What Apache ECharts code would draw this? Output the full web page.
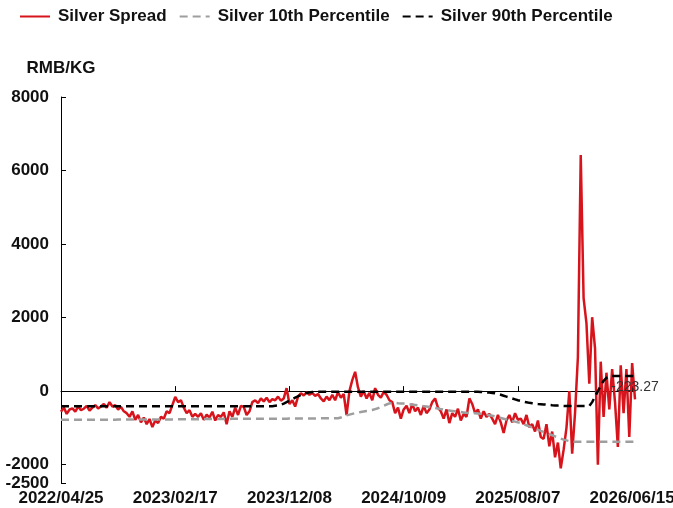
<!DOCTYPE html>
<html>
<head>
<meta charset="utf-8">
<title>Silver Spread</title>
<script src="https://cdn.jsdelivr.net/npm/echarts@6/dist/echarts.min.js"></script>
<style>
  html, body { margin: 0; padding: 0; background: #fff; }
  #main { width: 673px; height: 508px; }
</style>
</head>
<body>
<div id="main"></div>
<script>
// dates shown on the x axis, one every 40 points
var tickDates = ['2022/04/25', '2023/02/17', '2023/12/08', '2024/10/09', '2025/08/07', '2026/06/15'];
var perTick = 40;

// Silver spread, RMB/KG
var spread = [
    -560, -450, -620, -500, -470, -560, -420, -520, -480, -400,
    -530, -450, -380, -470, -420, -350, -450, -300, -420, -380,
    -500, -430, -550, -600, -700, -550, -780, -650, -850, -720,
    -900, -760, -980, -800, -870, -700, -750, -550, -600, -380,
    -160, -300, -250, -450, -600, -520, -700, -620, -700, -600,
    -780, -640, -720, -560, -800, -650, -700, -580, -900, -550,
    -700, -450, -650, -400, -430, -650, -550, -300, -250, -330,
    -200, -280, -180, -300, -220, -250, -150, -260, -200, 80,
    -350, -250, -420, -150, -60, -120, -30, -100, -50, -130,
    -80, -200, -280, -150, -250, -100, -250, -30, -180, -80,
    -650, 0, 300, 525, 100, -150, 0, -200, -50, -250,
    80, -100, -180, -20, -100, -250, -300, -600, -450, -750,
    -500, -400, -600, -350, -550, -450, -650, -400, -600, -500,
    -300, -200, -450, -550, -750, -500, -870, -600, -700, -480,
    -800, -620, -700, -200, -350, -600, -500, -750, -550, -700,
    -620, -750, -900, -650, -850, -1140, -800, -650, -850, -600,
    -780, -750, -900, -650, -980, -900, -1100, -800, -1250, -1300,
    -900, -1500, -1100, -1800, -1400, -2100, -1600, -1000, 0, -1700,
    -600, 920, 6420, 2530, 1850, 200, 2010, 1170, -2000, 800,
    -700, 500, -500, 600, -300, -1520, 700, -600, 600, -1250,
    760, -223.27
];

// 10th percentile
var p10 = [
    -780, -780, -780, -780, -780, -780, -780, -780, -780, -780,
    -780, -780, -780, -780, -780, -780, -780, -780, -780, -780,
    -775, -775, -775, -775, -775, -775, -775, -775, -775, -775,
    -770, -770, -770, -770, -770, -770, -770, -770, -770, -770,
    -765, -765, -765, -765, -765, -765, -765, -765, -765, -765,
    -760, -760, -760, -760, -760, -760, -760, -760, -760, -760,
    -755, -755, -755, -755, -755, -755, -755, -755, -755, -755,
    -750, -750, -750, -750, -750, -750, -750, -750, -750, -750,
    -745, -745, -745, -745, -745, -745, -745, -745, -745, -745,
    -740, -740, -740, -740, -740, -740, -740, -740, -720, -690,
    -660, -640, -620, -600, -585, -570, -555, -540, -530, -515,
    -490, -465, -435, -400, -365, -335, -320, -320, -330, -335,
    -340, -350, -360, -370, -380, -390, -400, -410, -420, -430,
    -445, -460, -475, -490, -505, -520, -530, -540, -550, -560,
    -570, -580, -590, -595, -600, -605, -610, -615, -625, -640,
    -655, -670, -690, -710, -730, -750, -770, -790, -810, -830,
    -850, -870, -900, -930, -960, -990, -1020, -1050, -1080, -1110,
    -1140, -1170, -1200, -1230, -1260, -1290, -1320, -1340, -1360, -1370,
    -1380, -1380, -1380, -1380, -1380, -1380, -1380, -1380, -1380, -1380,
    -1380, -1380, -1380, -1380, -1380, -1380, -1380, -1380, -1380, -1380,
    -1380, -1380
];

// 90th percentile
var p90 = [
    -410, -410, -410, -410, -410, -410, -410, -410, -410, -410,
    -410, -410, -410, -410, -410, -410, -410, -410, -410, -410,
    -410, -410, -410, -410, -410, -410, -410, -410, -410, -410,
    -410, -410, -410, -410, -410, -410, -410, -410, -410, -410,
    -410, -410, -410, -410, -410, -410, -410, -410, -410, -410,
    -410, -410, -410, -410, -410, -410, -410, -410, -410, -410,
    -410, -410, -410, -410, -410, -410, -410, -410, -410, -410,
    -410, -410, -410, -410, -410, -400, -390, -370, -340, -300,
    -260, -220, -180, -140, -105, -75, -50, -35, -25, -20,
    -20, -20, -20, -20, -20, -20, -20, -20, -20, -20,
    -20, -20, -20, -20, -20, -20, -20, -20, -20, -20,
    -20, -20, -20, -20, -20, -20, -20, -20, -20, -20,
    -20, -20, -20, -20, -20, -20, -20, -20, -20, -20,
    -20, -20, -20, -20, -20, -20, -20, -20, -20, -20,
    -20, -20, -20, -20, -20, -20, -20, -25, -30, -35,
    -40, -50, -60, -80, -100, -125, -150, -175, -200, -225,
    -250, -270, -290, -305, -320, -330, -340, -348, -355, -362,
    -370, -378, -385, -390, -395, -400, -405, -405, -405, -405,
    -405, -405, -405, -405, -405, -405, -300, -150, 0, 150,
    280, 360, 400, 410, 410, 410, 410, 410, 410, 410,
    410, 410
];

(function(){
    var myChart = echarts.init(document.getElementById('main'));
    var font = 'Liberation Sans, Arial, sans-serif';

    // 类目：每 40 个点一个刻度日期，中间的日期按天数平分（不显示）
    var dates = (function(){
        var out = [];
        var ms = tickDates.map(function(s){
            var p = s.split('/');
            return Date.UTC(+p[0], +p[1] - 1, +p[2]);
        });
        function fmt(t){
            var d = new Date(t);
            var m = d.getUTCMonth() + 1, dd = d.getUTCDate();
            return d.getUTCFullYear() + '/' + (m < 10 ? '0' + m : m) + '/' + (dd < 10 ? '0' + dd : dd);
        }
        for (var i = 0; i < spread.length; i++) {
            var k = Math.min(Math.floor(i / perTick), ms.length - 2);
            var step = (ms[k + 1] - ms[k]) / perTick;
            out.push(i % perTick === 0 && i / perTick < ms.length ? tickDates[i / perTick] : fmt(ms[k] + Math.round((i - k * perTick) * step / 864e5) * 864e5));
        }
        return out;
    })();

    var last = spread.length - 1;
    var yTicks = [-2500, -2000, 0, 2000, 4000, 6000, 8000];

    var option = {
        animation: false,
        backgroundColor: '#fff',
        legend: {
            left: 14,
            top: 3,
            itemWidth: 30,
            itemHeight: 18,
            itemGap: 12,
            itemStyle: { opacity: 0 },
            textStyle: { color: '#111', fontWeight: 'bold', fontSize: 17, fontFamily: font, padding: [0, 0, 0, 3] },
            data: ['Silver Spread', 'Silver 10th Percentile', 'Silver 90th Percentile']
        },
        grid: { left: 61, right: 38, top: 97, bottom: 25, containLabel: false, outerBoundsMode: 'none' },
        xAxis: [{
            // 底部只放日期标签
            type: 'category',
            data: dates,
            position: 'bottom',
            boundaryGap: false,
            axisLine: { show: false, onZero: false },
            axisTick: { show: false },
            axisLabel: {
                interval: perTick - 1,
                margin: 7,
                hideOverlap: false,
                color: '#111', fontWeight: 'bold', fontSize: 17, fontFamily: font
            },
            splitLine: { show: false }
        }, {
            // 0 处的横线和刻度
            type: 'category',
            data: dates,
            position: 'bottom',
            boundaryGap: false,
            axisLine: { show: true, onZero: true, lineStyle: { color: '#000', width: 1 } },
            axisTick: { show: true, inside: true, length: 5, interval: perTick - 1, lineStyle: { color: '#000' } },
            axisLabel: { show: false },
            splitLine: { show: false }
        }],
        yAxis: {
            type: 'value',
            min: -2500,
            max: 8000,
            interval: 500,
            name: 'RMB/KG',
            nameGap: 20,
            nameTextStyle: { color: '#111', fontWeight: 'bold', fontSize: 17, fontFamily: font },
            axisLine: { show: true, lineStyle: { color: '#000', width: 1 } },
            axisTick: { show: true, inside: true, length: 5, customValues: yTicks, lineStyle: { color: '#000' } },
            axisLabel: {
                customValues: yTicks,
                margin: 12,
                formatter: function(v){ return String(v); },
                color: '#111', fontWeight: 'bold', fontSize: 17, fontFamily: font
            },
            splitLine: { show: false }
        },
        series: [{
            name: 'Silver Spread',
            type: 'line',
            data: spread,
            symbol: 'none',
            lineStyle: { color: '#d7131b', width: 2.5 },
            itemStyle: { color: '#d7131b' },
            markPoint: {
                symbol: 'circle',
                symbolSize: 1,
                itemStyle: { color: 'rgba(0,0,0,0)' },
                label: { show: true, position: 'top', distance: 5, color: '#333', fontSize: 14, fontFamily: font, formatter: '{c}' },
                data: [{ coord: [last, spread[last]], value: spread[last] }]
            }
        }, {
            name: 'Silver 10th Percentile',
            type: 'line',
            data: p10,
            symbol: 'none',
            lineStyle: { color: '#9e9e9e', width: 2.5, type: [8, 5] },
            itemStyle: { color: '#9e9e9e' }
        }, {
            name: 'Silver 90th Percentile',
            type: 'line',
            data: p90,
            symbol: 'none',
            lineStyle: { color: '#000', width: 2.5, type: [8, 5] },
            itemStyle: { color: '#000' }
        }]
    };
    myChart.setOption(option);
})();
</script>
</body>
</html>
